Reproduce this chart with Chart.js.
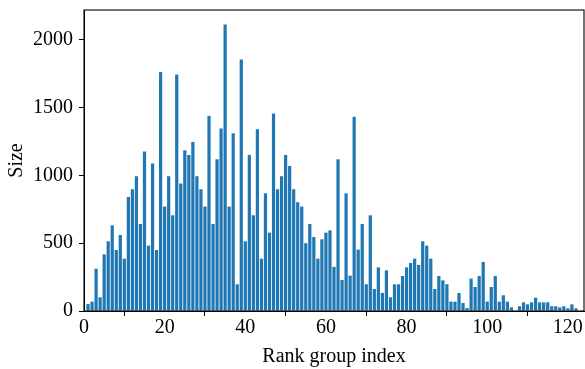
<!DOCTYPE html>
<html><head><meta charset="utf-8">
<script src="https://cdn.jsdelivr.net/npm/chart.js@4/dist/chart.umd.min.js"></script>
<style>html,body{margin:0;padding:0;background:#fff}#wrap{width:585px;height:369px;position:relative}</style>
</head><body><div id="wrap"><canvas id="c" width="585" height="369"></canvas></div>
<script>
// Rank group index 1..122
const rankIndex = Array.from({length: 122}, (_, i) => i + 1);
const sizes = [
  52, 69, 312, 101, 418, 514, 632, 450, 561, 386,
  841, 898, 994, 642, 1176, 482, 1087, 450, 1762, 770,
  994, 706, 1744, 940, 1185, 1151, 1247, 994, 898, 770,
  1439, 642, 1119, 1346, 2113, 770, 1311, 197, 1855, 514,
  1151, 706, 1341, 386, 868, 578, 1456, 898, 994, 1151,
  1070, 898, 802, 770, 500, 642, 546, 386, 529, 578,
  595, 325, 1119, 229, 868, 261, 1432, 453, 642, 197,
  706, 162, 322, 133, 300, 101, 197, 197, 258, 322,
  354, 386, 340, 514, 482, 386, 162, 258, 226, 197,
  69, 69, 133, 59, 22, 239, 177, 258, 362, 69,
  177, 258, 69, 116, 69, 27, 0, 35, 64, 49,
  64, 98, 64, 64, 64, 35, 35, 27, 35, 20,
  49, 20
];
const xTickValues = [0, 20, 40, 60, 80, 100, 120];
const yTickValues = [0, 500, 1000, 1500, 2000];
const xLabel = 'Rank group index';
const yLabel = 'Size';

const FONT = '"Liberation Serif", "DejaVu Serif", "Times New Roman", serif';
Chart.defaults.font.family = FONT;
Chart.defaults.font.size = 20;
Chart.defaults.color = '#000';

const framePlugin = {
  id: 'frame',
  afterDatasetsDraw(chart) {
    const {ctx, chartArea: a} = chart;
    ctx.save();
    ctx.strokeStyle = '#000';
    ctx.lineWidth = 1.1;
    ctx.strokeRect(a.left, a.top, a.right - a.left, a.bottom - a.top);
    ctx.restore();
  }
};

new Chart(document.getElementById('c'), {
  type: 'bar',
  data: {
    datasets: [{
      data: rankIndex.map((x, i) => ({x: x, y: sizes[i]})),
      backgroundColor: '#1f77b4',
      borderWidth: 0,
      barPercentage: 0.8,
      categoryPercentage: 1.0
    }]
  },
  options: {
    responsive: false,
    animation: false,
    devicePixelRatio: 1,
    layout: {padding: {top: 10, right: 1, left: 0, bottom: 0}},
    plugins: {legend: {display: false}, tooltip: {enabled: false}},
    scales: {
      x: {
        type: 'linear',
        offset: false,
        min: 0,
        max: 124,
        afterBuildTicks: s => { s.ticks = xTickValues.map(v => ({value: v})); },
        afterFit: s => { s.height = 58; s.paddingLeft = 0; s.paddingRight = 0; },
        grid: {display: true, drawOnChartArea: false, drawTicks: true, tickLength: 5, tickColor: '#000', tickWidth: 1},
        border: {display: true, color: '#000', width: 1},
        ticks: {padding: 0, color: '#000', maxRotation: 0, autoSkip: false, callback: v => String(v)},
        title: {display: true, text: xLabel, color: '#000', padding: {top: 0, bottom: 0}}
      },
      y: {
        min: 0,
        max: 2220,
        afterBuildTicks: s => { s.ticks = yTickValues.map(v => ({value: v})); },
        afterFit: s => { s.width = 84; s.paddingTop = 0; s.paddingBottom = 0; },
        grid: {display: true, drawOnChartArea: false, drawTicks: true, tickLength: 5, tickColor: '#000', tickWidth: 1},
        border: {display: true, color: '#000', width: 1},
        ticks: {padding: 6, color: '#000', autoSkip: false, callback: v => String(v)},
        title: {display: true, text: yLabel, color: '#000', padding: {top: 5, bottom: 0}}
      }
    }
  },
  plugins: [framePlugin]
});
</script>
</body></html>
